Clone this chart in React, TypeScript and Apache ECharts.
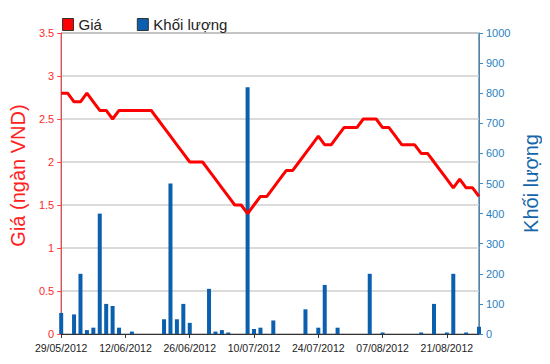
import React, { useEffect, useRef } from "react";
import * as echarts from "echarts";

const dates: string[] = [
  "29/05/2012", "30/05/2012", "31/05/2012", "01/06/2012", "04/06/2012", "05/06/2012", "06/06/2012", "07/06/2012", "08/06/2012", "11/06/2012",
  "12/06/2012", "13/06/2012", "14/06/2012", "15/06/2012", "18/06/2012", "19/06/2012", "20/06/2012", "21/06/2012", "22/06/2012", "25/06/2012",
  "26/06/2012", "27/06/2012", "28/06/2012", "29/06/2012", "02/07/2012", "03/07/2012", "04/07/2012", "05/07/2012", "06/07/2012", "09/07/2012",
  "10/07/2012", "11/07/2012", "12/07/2012", "13/07/2012", "16/07/2012", "17/07/2012", "18/07/2012", "19/07/2012", "20/07/2012", "23/07/2012",
  "24/07/2012", "25/07/2012", "26/07/2012", "27/07/2012", "30/07/2012", "31/07/2012", "01/08/2012", "02/08/2012", "03/08/2012", "06/08/2012",
  "07/08/2012", "08/08/2012", "09/08/2012", "10/08/2012", "13/08/2012", "14/08/2012", "15/08/2012", "16/08/2012", "17/08/2012", "20/08/2012",
  "21/08/2012", "22/08/2012", "23/08/2012", "24/08/2012", "27/08/2012", "28/08/2012",
];

const price: number[] = [
  2.8, 2.8, 2.7, 2.7, 2.8, 2.7, 2.6, 2.6, 2.5, 2.6,
  2.6, 2.6, 2.6, 2.6, 2.6, 2.5, 2.4, 2.3, 2.2, 2.1,
  2.0, 2.0, 2.0, 1.9, 1.8, 1.7, 1.6, 1.5, 1.5, 1.4,
  1.5, 1.6, 1.6, 1.7, 1.8, 1.9, 1.9, 2.0, 2.1, 2.2,
  2.3, 2.2, 2.2, 2.3, 2.4, 2.4, 2.4, 2.5, 2.5, 2.5,
  2.4, 2.4, 2.3, 2.2, 2.2, 2.2, 2.1, 2.1, 2.0, 1.9,
  1.8, 1.7, 1.8, 1.7, 1.7, 1.6,
];

const volume: number[] = [
  70, 0, 65, 200, 13, 21, 400, 100, 93, 21,
  0, 8, 0, 0, 0, 0, 49, 500, 49, 100,
  37, 0, 0, 150, 8, 13, 5, 0, 0, 820,
  17, 21, 0, 45, 0, 0, 0, 0, 82, 0,
  21, 163, 0, 21, 0, 0, 0, 0, 200, 0,
  5, 0, 0, 0, 0, 0, 5, 0, 100, 0,
  5, 200, 0, 5, 0, 24,
];

const FONT = "'Liberation Sans', Arial, sans-serif";

export default function App() {
  const ref = useRef<HTMLDivElement>(null);
  useEffect(() => {
    if (!ref.current) return;
    const chart = echarts.init(ref.current, undefined, { renderer: "svg" });
    chart.setOption({
      animation: false,
      textStyle: { fontFamily: FONT },
      legend: {
        left: 62,
        top: 17,
        padding: 0,
        itemWidth: 11,
        itemHeight: 12,
        itemGap: 35,
        textStyle: { fontSize: 15, color: "#222", fontFamily: FONT },
        itemStyle: { borderColor: "#333", borderWidth: 1 },
        data: [
          { name: "Giá", icon: "rect" },
          { name: "Khối lượng", icon: "rect" },
        ],
      },
      grid: {
        left: 57,
        right: 71,
        top: 33,
        bottom: 30,
        show: true,
        borderColor: "#444",
        borderWidth: 1,
        backgroundColor: "transparent",
      },
      xAxis: {
        type: "category",
        data: dates,
        boundaryGap: false,
        axisLine: { lineStyle: { color: "#333", width: 1 } },
        axisTick: { show: true, interval: 9, length: 4, lineStyle: { color: "#333" } },
        axisLabel: { interval: 9, fontSize: 10.5, color: "#222", margin: 8, fontFamily: FONT },
        splitLine: { show: false },
      },
      yAxis: [
        {
          type: "value",
          min: 0,
          max: 3.5,
          interval: 0.5,
          position: "left",
          name: "Giá (ngàn VND)",
          nameLocation: "middle",
          nameGap: 23,
          nameTextStyle: { fontSize: 20, color: "#ff2020", fontFamily: FONT, padding: [0, 0, 0, 16] },
          axisLine: { show: true, lineStyle: { color: "#ff4444", width: 1 } },
          axisTick: { show: true, length: 4, lineStyle: { color: "#ff4444" } },
          axisLabel: { fontSize: 11, color: "#ff2a2a", margin: 7, fontFamily: FONT },
          splitLine: { show: true, lineStyle: { color: "#cfcfcf", width: 1.5 } },
        },
        {
          type: "value",
          min: 0,
          max: 1000,
          interval: 100,
          position: "right",
          name: "Khối lượng",
          nameLocation: "middle",
          nameGap: 35,
          nameTextStyle: { fontSize: 20, color: "#1565a8", fontFamily: FONT },
          axisLine: { show: true, lineStyle: { color: "#3a8cc8", width: 1 } },
          axisTick: { show: true, length: 4, lineStyle: { color: "#3a8cc8" } },
          axisLabel: {
            fontSize: 11,
            color: "#2a7fc0",
            margin: 7,
            fontFamily: FONT,
            formatter: (v: number) => String(v),
          },
          splitLine: { show: false },
        },
      ],
      series: [
        {
          name: "Khối lượng",
          type: "bar",
          yAxisIndex: 1,
          data: volume,
          barWidth: 4,
          itemStyle: { color: "#0a5fae" },
          z: 2,
        },
        {
          name: "Giá",
          type: "line",
          yAxisIndex: 0,
          data: price,
          showSymbol: false,
          symbol: "none",
          lineStyle: { color: "#ff0000", width: 3 },
          itemStyle: { color: "#ff0000" },
          z: 3,
        },
      ],
    });
    return () => chart.dispose();
  }, []);
  return <div ref={ref} style={{ width: 550, height: 364, margin: -8 }} />;
}
